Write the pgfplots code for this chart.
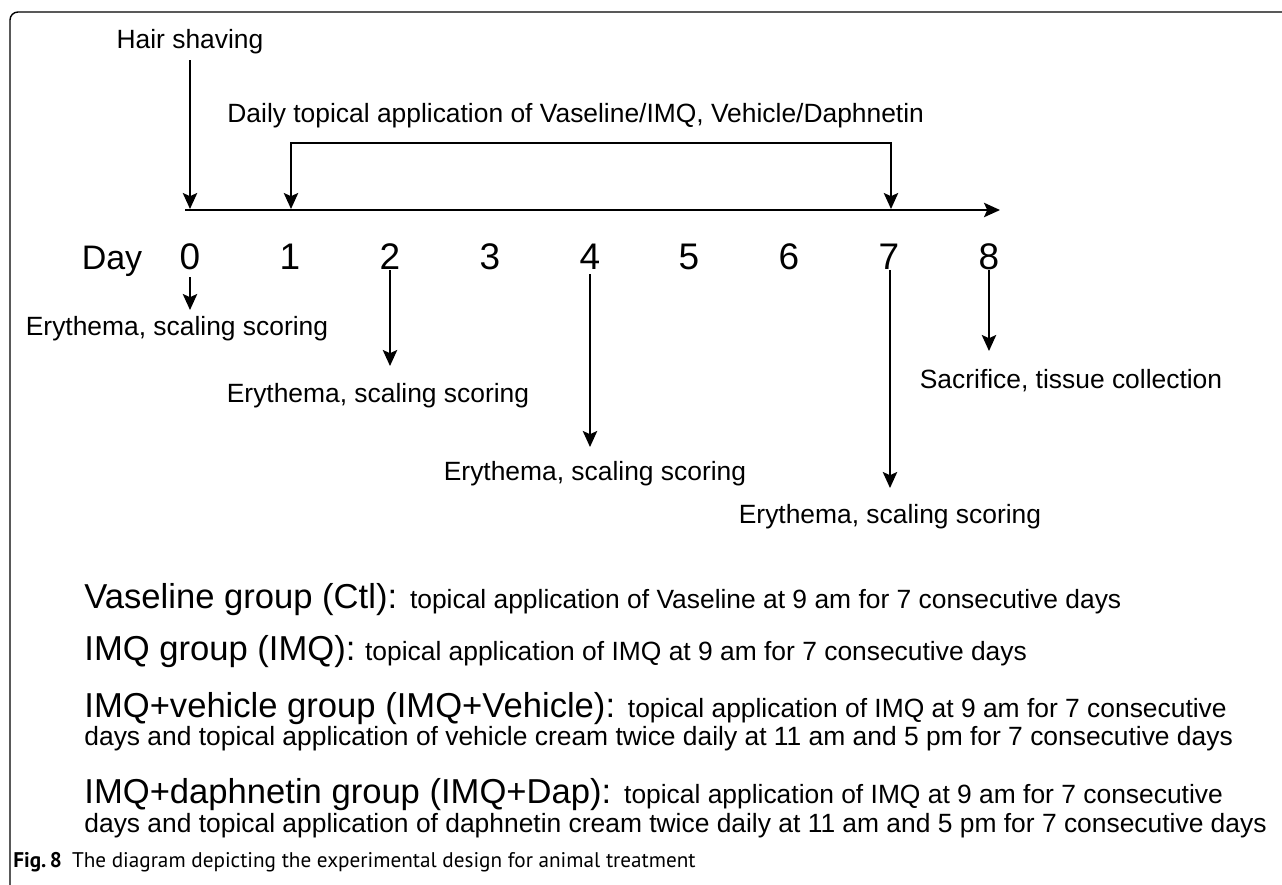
\documentclass[border=0pt]{standalone}
\usepackage{pgfplots}
\pgfplotsset{compat=1.18}
\usetikzlibrary{arrows.meta}
\usepackage{fontspec}
\setmainfont{Liberation Sans}
\newfontfamily\capfont{PT Sans}
\newcommand{\fmid}{\fontsize{13.2}{15}\selectfont}
\newcommand{\fbig}{\fontsize{17.3}{20}\selectfont}
\newcommand{\fday}{\fontsize{18.5}{20}\selectfont}
\begin{document}
\begin{tikzpicture}
\begin{axis}[
  scale only axis, width=641pt, height=442.5pt,
  xmin=0, xmax=1282, ymin=0, ymax=885, y dir=reverse,
  hide axis, clip=false,
  every axis plot/.append style={black, line width=0.95pt},
  arr/.style={-{Stealth[length=8pt,width=7.2pt,inset=1.6pt]}},
]
% frame
\addplot[line width=0.7pt, rounded corners=4pt] coordinates {(10,885) (10,12) (1282,12)};
% timeline
\addplot[arr] coordinates {(185,210) (1000,210)};
% hair shaving arrow
\addplot[arr] coordinates {(190,60) (190,209)};
% bracket
\addplot[{Stealth[length=8pt,width=7.2pt,inset=1.6pt]}-{Stealth[length=8pt,width=7.2pt,inset=1.6pt]}] coordinates {(291,209) (291,143) (891,143) (891,209)};
% scoring arrows
\addplot[arr] coordinates {(190,277) (190,310)};
\addplot[arr] coordinates {(390,270) (390,366)};
\addplot[arr] coordinates {(590,274) (590,447)};
\addplot[arr] coordinates {(890,270) (890,488)};
\addplot[arr] coordinates {(989,270) (989,351)};

\node[anchor=base] at (axis cs:190,48) {\fmid Hair shaving};
\node[anchor=base west, inner sep=0pt] at (axis cs:227,122) {\fmid Daily topical application of Vaseline/IMQ, Vehicle/Daphnetin};
\node[anchor=base, inner sep=0pt] at (axis cs:112,269) {\fontsize{17}{20}\selectfont Day};
\node[anchor=base, inner sep=0pt] at (axis cs:190,269) {\fday 0};
\node[anchor=base, inner sep=0pt] at (axis cs:290,269) {\fday 1};
\node[anchor=base, inner sep=0pt] at (axis cs:390,269) {\fday 2};
\node[anchor=base, inner sep=0pt] at (axis cs:490,269) {\fday 3};
\node[anchor=base, inner sep=0pt] at (axis cs:590,269) {\fday 4};
\node[anchor=base, inner sep=0pt] at (axis cs:689,269) {\fday 5};
\node[anchor=base, inner sep=0pt] at (axis cs:789,269) {\fday 6};
\node[anchor=base, inner sep=0pt] at (axis cs:889,269) {\fday 7};
\node[anchor=base, inner sep=0pt] at (axis cs:989,269) {\fday 8};

\node[anchor=base, inner sep=0pt] at (axis cs:177,335) {\fmid Erythema, scaling scoring};
\node[anchor=base, inner sep=0pt] at (axis cs:378,402) {\fmid Erythema, scaling scoring};
\node[anchor=base, inner sep=0pt] at (axis cs:595,480) {\fmid Erythema, scaling scoring};
\node[anchor=base, inner sep=0pt] at (axis cs:890,523) {\fmid Erythema, scaling scoring};
\node[anchor=base, inner sep=0pt] at (axis cs:1071,388) {\fmid Sacrifice, tissue collection};

\node[anchor=base west, inner sep=0pt] at (axis cs:84,608) {\fbig Vaseline group (Ctl): \fmid topical application of Vaseline at 9 am for 7 consecutive days};
\node[anchor=base west, inner sep=0pt] at (axis cs:84,660) {\fbig IMQ group (IMQ): \fmid topical application of IMQ at 9 am for 7 consecutive days};
\node[anchor=base west, inner sep=0pt] at (axis cs:84,717) {\fbig IMQ+vehicle group (IMQ+Vehicle): \fmid topical application of IMQ at 9 am for 7 consecutive};
\node[anchor=base west, inner sep=0pt] at (axis cs:84,745) {\fmid days and topical application of vehicle cream twice daily at 11 am and 5 pm for 7 consecutive days};
\node[anchor=base west, inner sep=0pt] at (axis cs:84,803) {\fbig IMQ+daphnetin group (IMQ+Dap): \fmid topical application of IMQ at 9 am for 7 consecutive};
\node[anchor=base west, inner sep=0pt] at (axis cs:84,832) {\fmid days and topical application of daphnetin cream twice daily at 11 am and 5 pm for 7 consecutive days};

\node[anchor=base west, inner sep=0pt] at (axis cs:13,867) {\capfont\fontsize{10.6}{13}\selectfont\textbf{Fig.\,8}\hspace{5pt}The diagram depicting the experimental design for animal treatment};
\end{axis}
\pgfresetboundingbox
\path (0,0) rectangle (641pt,442.5pt);
\end{tikzpicture}
\end{document}
